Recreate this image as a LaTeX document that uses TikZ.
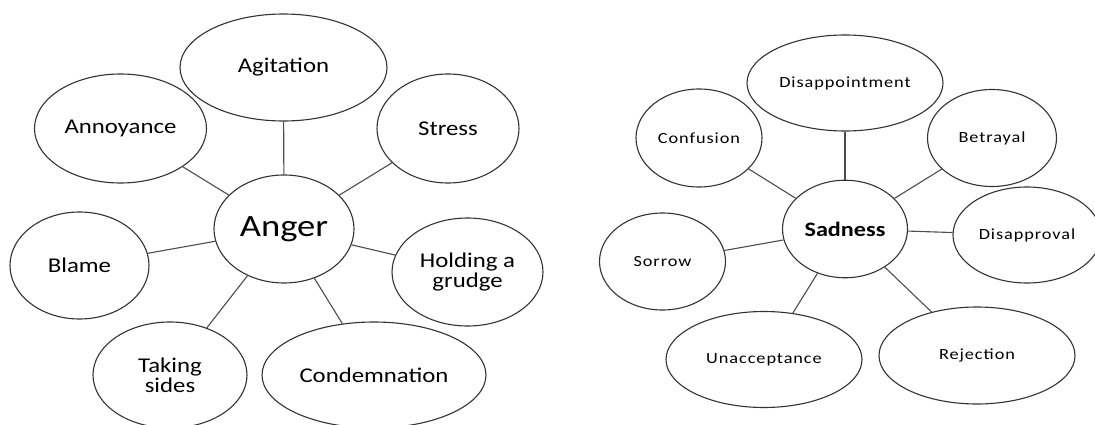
\documentclass[tikz,border=0pt]{standalone}
\usepackage{fontspec}
\setmainfont{Carlito}[FakeStretch=1.18]
\newfontfamily\smallfont{Carlito}[FakeStretch=1.18,LetterSpace=6]
\usetikzlibrary{shapes.geometric}

\tikzset{
  bubble/.style args={#1/#2}{ellipse, draw=black!80, line width=1.1pt,
    inner sep=0pt, minimum width=#1pt, minimum height=#2pt, align=center},
  big/.style={font=\fontsize{21}{20}\selectfont},
  hub/.style={font=\fontsize{31}{31}\selectfont},
  small/.style={font=\smallfont\fontsize{15.5}{16}\selectfont},
  hubsmall/.style={font=\bfseries\fontsize{20.5}{20}\selectfont},
  link/.style={draw=black!70, line width=1.1pt}
}

\begin{document}
\begin{tikzpicture}[x=1pt,y=-1pt]
  \useasboundingbox (0,0) rectangle (1095,425);
  \clip (0,0) rectangle (1095,425);

  % Anger cluster
  \node[bubble=140/108, hub]   (anger)  at (284,229)   {Anger};
  \node[bubble=207/107, big]   (agit)   at (283.5,67.5) {Agitation};
  \node[bubble=172/109, big]   (annoy)  at (120.5,128.5) {Annoyance};
  \node[bubble=142/109, big]   (stress) at (448,128.5)  {Stress};
  \node[bubble=139/107, big]   (blame)  at (79.5,265.5) {Blame};
  \node[bubble=151/108, big]   (hold)   at (467.5,272)  {Holding a\\grudge};
  \node[bubble=154/106, big]   (take)   at (170,375)    {Taking\\sides};
  \node[bubble=224/106, big]   (cond)   at (374,375)    {Condemnation};

  \foreach \n in {agit,annoy,stress,blame,hold,take,cond}
    \draw[link] (anger) -- (\n);

  % Sadness cluster
  \node[bubble=125/97.5, hubsmall] (sad)    at (845,229)   {Sadness};
  \node[bubble=196/96, small]      (disap)  at (845,83)    {Disappointment};
  \node[bubble=126/98, small]      (conf)   at (699,138)   {Confusion};
  \node[bubble=129/97, small]      (betr)   at (992,138)   {Betrayal};
  \node[bubble=148/96, small]      (dispr)  at (1027,235)  {Disapproval};
  \node[bubble=126/97, small]      (sorrow) at (662.5,261.5) {Sorrow};
  \node[bubble=196/96, small]      (unacc)  at (764,359.5) {Unacceptance};
  \node[bubble=196/97, small]      (rej)    at (977,355.5) {Rejection};

  \foreach \n in {disap,conf,betr,dispr,sorrow,unacc,rej}
    \draw[link] (sad) -- (\n);
\end{tikzpicture}
\end{document}
